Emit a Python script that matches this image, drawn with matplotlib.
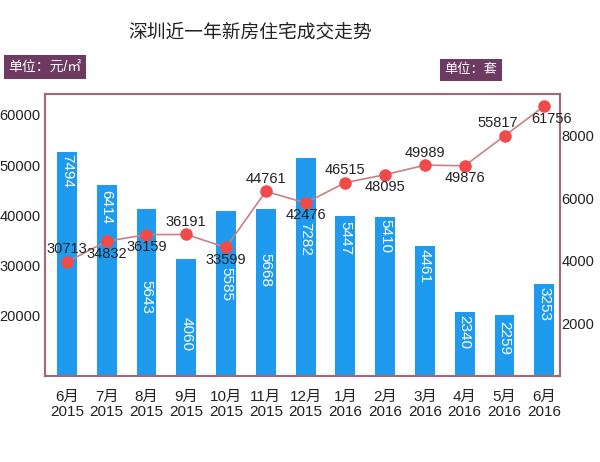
import matplotlib.pyplot as plt
import numpy as np

plt.rcParams['font.family'] = ['Liberation Sans', 'Noto Sans CJK SC', 'DejaVu Sans']

months = ['6月', '7月', '8月', '9月', '10月', '11月', '12月',
          '1月', '2月', '3月', '4月', '5月', '6月']
years = ['2015'] * 7 + ['2016'] * 6
units = [7494, 6414, 5643, 4060, 5585, 5668, 7282, 5447, 5410, 4461, 2340, 2259, 3253]
prices = [30713, 34832, 36159, 36191, 33599, 44761, 42476, 46515, 48095, 49989,
          49876, 55817, 61756]
# label above (1) or below (-1) the marker
label_pos = [1, -1, -1, 1, -1, 1, -1, 1, -1, 1, -1, 1, -1]
label_dx = [0, 0, 0, 0, 0, 0, 0, 0, 0, 0, 0, -5, 5]
# how far down the bar its value label sits (points), to dodge the line labels
bar_label_gap = [2, 3, 51, 42, 40, 32, 46, 4, 2, 2, 2, 4, 2]

bar_color = '#1e9bef'
frame_color = '#a06a7a'
box_color = '#6e3a62'

fig = plt.figure(figsize=(6, 4.62), dpi=100)
ax = fig.add_axes([0.075, 0.186, 0.858, 0.611])
ax2 = ax.twinx()

x = np.arange(len(months))

# bars (units sold) on the right axis
ax2.bar(x, units, width=0.5, color=bar_color, zorder=1)
for xi, u, g in zip(x, units, bar_label_gap):
    ax2.annotate(str(u), (xi, u), xytext=(0, -g), textcoords='offset points',
                 rotation=270, ha='center', va='top', color='white', fontsize=11)
ax2.set_ylim(300, 9350)
ax2.set_yticks([2000, 4000, 6000, 8000])

# line (price) on the left axis, drawn above the bars
ax.set_zorder(ax2.get_zorder() + 1)
ax.patch.set_visible(False)
ax.plot(x, prices, color='#c88088', lw=1.2, marker='o', markersize=8,
        markerfacecolor='#f04a4a', markeredgecolor='#f04a4a', zorder=3)
for xi, p, s, dx in zip(x, prices, label_pos, label_dx):
    ax.annotate(str(p), (xi, p), xytext=(dx, 9 * s), textcoords='offset points',
                ha='center', va='center', fontsize=10.5, color='#222222', zorder=4)
ax.set_ylim(8000, 64200)
ax.set_yticks([20000, 30000, 40000, 50000, 60000])
ax.set_xlim(-0.55, 12.39)
ax.set_xticks(x)
ax.set_xticklabels([m + '\n' + y for m, y in zip(months, years)],
                   fontsize=10.5, linespacing=1.1)

for a in (ax, ax2):
    a.tick_params(length=0, labelsize=10.5, colors='#222222')
    for sp in a.spines.values():
        sp.set_color(frame_color)
        sp.set_linewidth(1.5)
ax.tick_params(axis='y', pad=3)
ax2.tick_params(axis='y', pad=1)
ax.tick_params(axis='x', pad=10, labelsize=11)

fig.text(0.417, 1 - 33 / 462, '深圳近一年新房住宅成交走势', ha='center', va='center',
         fontsize=13.5, color='#222222')
fig.text(0.075, 1 - 67 / 462, '单位：元/㎡', ha='center', va='center',
         fontsize=10, color='white',
         bbox=dict(boxstyle='square,pad=0.35', fc=box_color, ec='none'))
fig.text(0.785, 1 - 70 / 462, '单位：套', ha='center', va='center',
         fontsize=9.5, color='white',
         bbox=dict(boxstyle='square,pad=0.35', fc=box_color, ec='none'))

fig.savefig('out.png', dpi=100, facecolor='white')
